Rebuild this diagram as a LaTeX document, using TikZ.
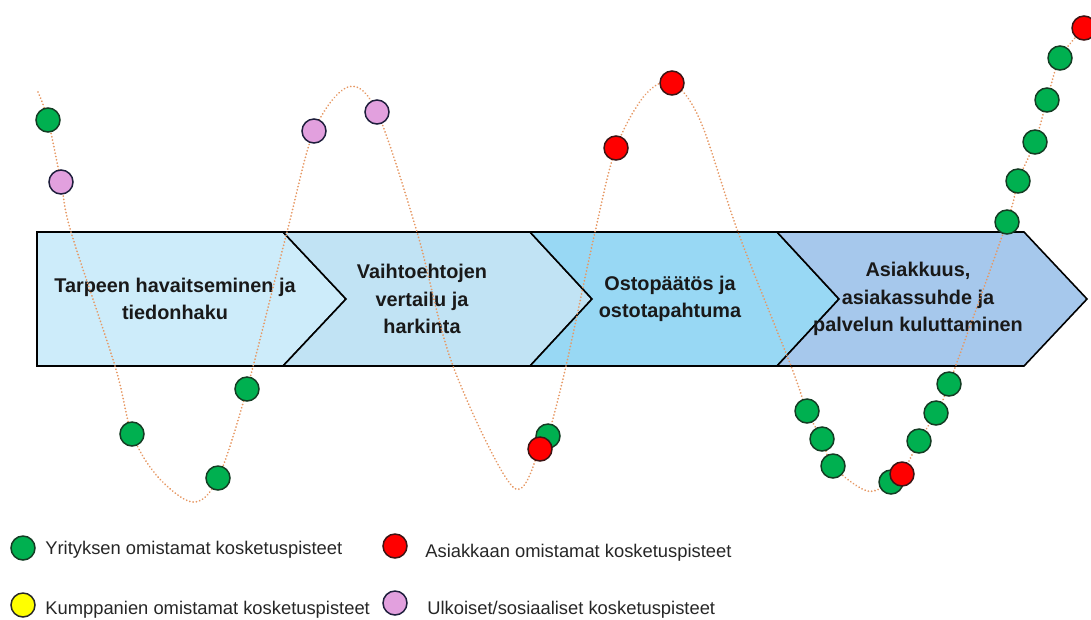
\documentclass[tikz,border=0pt]{standalone}
\usepackage{fontspec}
\setmainfont{Liberation Sans}
\definecolor{boxa}{RGB}{205,236,250}
\definecolor{boxb}{RGB}{193,227,244}
\definecolor{boxc}{RGB}{152,216,244}
\definecolor{boxd}{RGB}{166,200,236}
\definecolor{curvecol}{RGB}{230,152,100}
\definecolor{gfill}{RGB}{0,176,80}
\definecolor{gline}{RGB}{20,60,35}
\definecolor{rfill}{RGB}{255,0,0}
\definecolor{rline}{RGB}{60,20,20}
\definecolor{pfill}{RGB}{226,160,222}
\definecolor{pline}{RGB}{30,30,60}
\definecolor{yfill}{RGB}{255,255,0}
\definecolor{yline}{RGB}{40,40,40}
\tikzset{
  stagebox/.style={draw=black, line width=0.9pt, line join=miter},
  stagetext/.style={font=\fontsize{11.3}{15.5}\selectfont\bfseries, align=center, text=black!90},
  curveline/.style={draw=curvecol, line width=1.1pt, dash pattern=on 0.01pt off 1.9pt, line cap=round},
  dotbase/.style={circle, inner sep=0pt, minimum size=0.48cm, line width=0.85pt},
  gdot/.style={dotbase, draw=gline, fill=gfill},
  rdot/.style={dotbase, draw=rline, fill=rfill},
  pdot/.style={dotbase, draw=pline, fill=pfill},
  ydot/.style={dotbase, draw=yline, fill=yfill},
  legtext/.style={font=\fontsize{10.45}{12}\selectfont, anchor=base west, inner sep=0pt, text=black!85}
}
\begin{document}
\begin{tikzpicture}[x=0.02cm,y=-0.02cm]
\useasboundingbox (0,0) rectangle (1091,619);
% stage arrows
\draw[stagebox, fill=boxa] (37,232) -- (283,232) -- (346,299) -- (283,366) -- (37,366) -- cycle;
\draw[stagebox, fill=boxb] (283,232) -- (530,232) -- (592,299) -- (530,366) -- (283,366) -- (346,299) -- cycle;
\draw[stagebox, fill=boxc] (530,232) -- (777,232) -- (839,299) -- (777,366) -- (530,366) -- (592,299) -- cycle;
\draw[stagebox, fill=boxd] (777,232) -- (1024,232) -- (1087,299) -- (1024,366) -- (777,366) -- (839,299) -- cycle;
\node[stagetext] (s1) at (175,299) {Tarpeen havaitseminen ja\\tiedonhaku};
\node[stagetext] (s2) at (422,299) {Vaihtoehtojen\\vertailu ja\\harkinta};
\node[stagetext] (s3) at (670,299) {Ostopäätös ja\\ostotapahtuma};
\node[stagetext] (s4) at (918,299) {Asiakkuus,\\asiakassuhde ja\\palvelun kuluttaminen};
% journey curve
\draw[curveline] plot[smooth, tension=0.55] coordinates {
 (38,92) (48,120) (61,182) (71,232) (115,366) (132,434) (158,477) (193,502) (218,478) (247,389)
 (287,232) (314,131) (348,87) (377,112) (417,232) (453,366) (513,487) (540,449) (548,436)
 (566,366) (595,232) (616,148) (645,95) (672,83) (700,120) (738,232) (791,366) (807,411) (822,439) (833,466)
 (867,491) (891,482) (902,474) (919,441) (936,413) (949,384) (1007,222) (1018,181) (1035,142)
 (1047,100) (1060,58) (1084,28)};
% touchpoints
\node[gdot] (g1) at (48,120) {};
\node[gdot] (g2) at (132,434) {};
\node[gdot] (g3) at (218,478) {};
\node[gdot] (g4) at (247,389) {};
\node[gdot] (g5) at (548,436) {};
\node[gdot] (g6) at (807,411) {};
\node[gdot] (g7) at (822,439) {};
\node[gdot] (g8) at (833,466) {};
\node[gdot] (g9) at (891,482) {};
\node[gdot] (g10) at (919,441) {};
\node[gdot] (g11) at (936,413) {};
\node[gdot] (g12) at (949,384) {};
\node[gdot] (g13) at (1007,222) {};
\node[gdot] (g14) at (1018,181) {};
\node[gdot] (g15) at (1035,142) {};
\node[gdot] (g16) at (1047,100) {};
\node[gdot] (g17) at (1060,58) {};
\node[rdot] (r1) at (540,449) {};
\node[rdot] (r2) at (616,148) {};
\node[rdot] (r3) at (672,83) {};
\node[rdot] (r4) at (902,474) {};
\node[rdot] (r5) at (1084,28) {};
\node[pdot] (p1) at (61,182) {};
\node[pdot] (p2) at (314,131) {};
\node[pdot] (p3) at (377,112) {};
% legend
\node[gdot] (lg) at (23,548) {};
\node[legtext] (lgt) at (45,554) {Yrityksen omistamat kosketuspisteet};
\node[rdot] (lr) at (395,546) {};
\node[legtext] (lrt) at (425,557) {Asiakkaan omistamat kosketuspisteet};
\node[ydot] (ly) at (23,605) {};
\node[legtext] (lyt) at (45,614) {Kumppanien omistamat kosketuspisteet};
\node[pdot] (lp) at (395,603) {};
\node[legtext] (lpt) at (427,614) {Ulkoiset/sosiaaliset kosketuspisteet};
\end{tikzpicture}
\end{document}
